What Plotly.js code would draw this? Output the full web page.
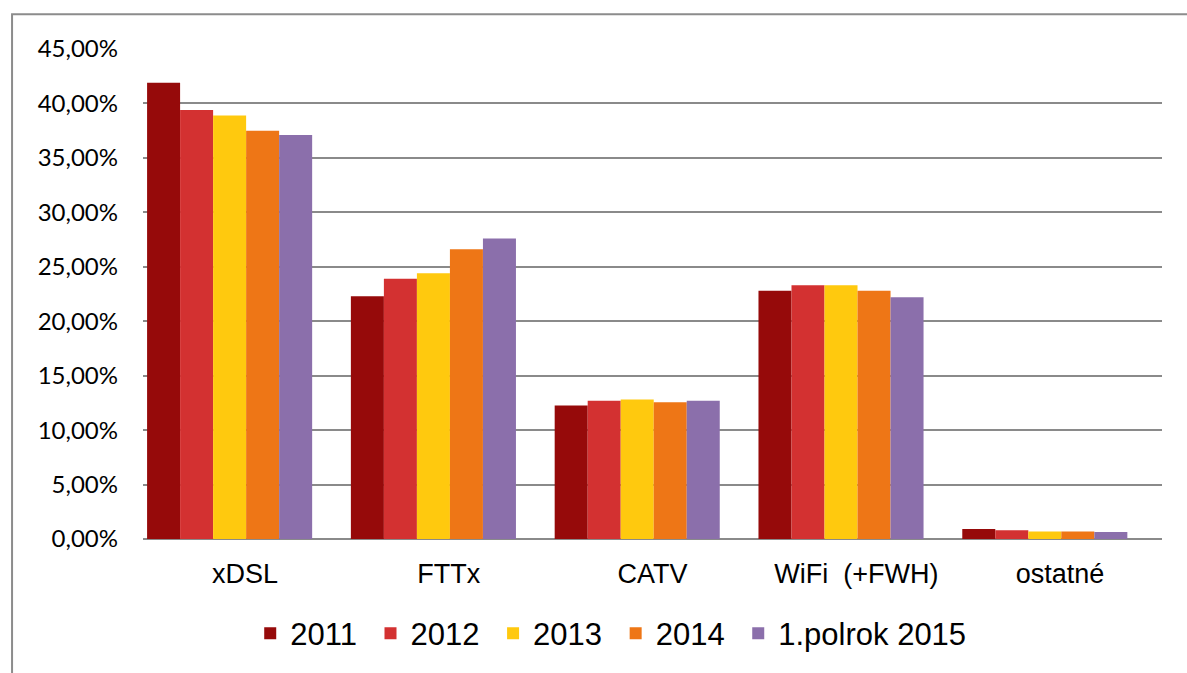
<!DOCTYPE html>
<html>
<head>
<meta charset="utf-8">
<script src="https://cdn.plot.ly/plotly-3.0.1.min.js"></script>
<style>
  html, body { margin: 0; padding: 0; background: #fff; }
  #chart { width: 1187px; height: 673px; }
</style>
</head>
<body>
<div id="chart"></div>
<script>
const categories = ["xDSL", "FTTx", "CATV", "WiFi  (+FWH)", "ostatné"];
const seriesNames = ["2011", "2012", "2013", "2014", "1.polrok 2015"];
const v2011 = [41.9, 22.3, 12.25, 22.8, 0.92];
const v2012 = [39.4, 23.9, 12.7, 23.3, 0.80];
const v2013 = [38.9, 24.4, 12.8, 23.3, 0.70];
const v2014 = [37.5, 26.6, 12.55, 22.8, 0.70];
const v2015 = [37.1, 27.6, 12.7, 22.2, 0.65];
const colors = ["#960a0a", "#d33131", "#ffc90e", "#ee7616", "#8b6fab"];

const allValues = [v2011, v2012, v2013, v2014, v2015];

// excel leaves room for a 6th (empty) slot, so bars sit left of the label
const barW = 0.162;
const traces = allValues.map((vals, i) => ({
  type: "bar",
  // trailing nbsp widens the gap between legend entries a bit
  name: i < allValues.length - 1 ? seriesNames[i] + "\u00a0" : seriesNames[i],
  x: categories,
  y: vals,
  width: barW,
  offset: -0.48 + i * barW,
  marker: { color: colors[i], line: { width: 0 } },
  hoverinfo: "x+y+name"
}));

const layout = {
  width: 1187,
  height: 673,
  margin: { l: 143, r: 25, t: 49, b: 132 },
  paper_bgcolor: "#fff",
  plot_bgcolor: "#fff",
  separators: ", ",
  showlegend: true,
  legend: {
    orientation: "h",
    x: 0.459,
    xanchor: "center",
    y: -0.193,
    yanchor: "middle",
    font: { family: "Liberation Sans, Arial, sans-serif", size: 31, color: "#000" },
    traceorder: "normal"
  },
  xaxis: {
    type: "category",
    showgrid: false,
    showline: false,
    ticks: "",
    ticklabelstandoff: 16,
    tickfont: { family: "Liberation Sans, Arial, sans-serif", size: 27, color: "#000" },
    fixedrange: true
  },
  yaxis: {
    range: [0, 45],
    dtick: 5,
    tick0: 0,
    tickformat: ".2f",
    ticksuffix: "%",
    showgrid: true,
    gridcolor: "#8a8a8a",
    gridwidth: 2,
    zeroline: true,
    zerolinecolor: "#8a8a8a",
    zerolinewidth: 2,
    showline: false,
    ticks: "",
    ticklabelstandoff: 24,
    tickfont: { family: "Lato, Liberation Sans, sans-serif", size: 24, color: "#000" },
    fixedrange: true
  },
  shapes: [{
    type: "rect",
    xref: "paper", yref: "paper",
    x0: -0.1285, x1: 1.2,
    y0: -0.5, y1: 1.0711,
    line: { color: "#8c8c8c", width: 2 },
    fillcolor: "rgba(0,0,0,0)",
    layer: "below"
  }]
};

Plotly.newPlot("chart", traces, layout, { displayModeBar: false, staticPlot: true });
</script>
</body>
</html>
